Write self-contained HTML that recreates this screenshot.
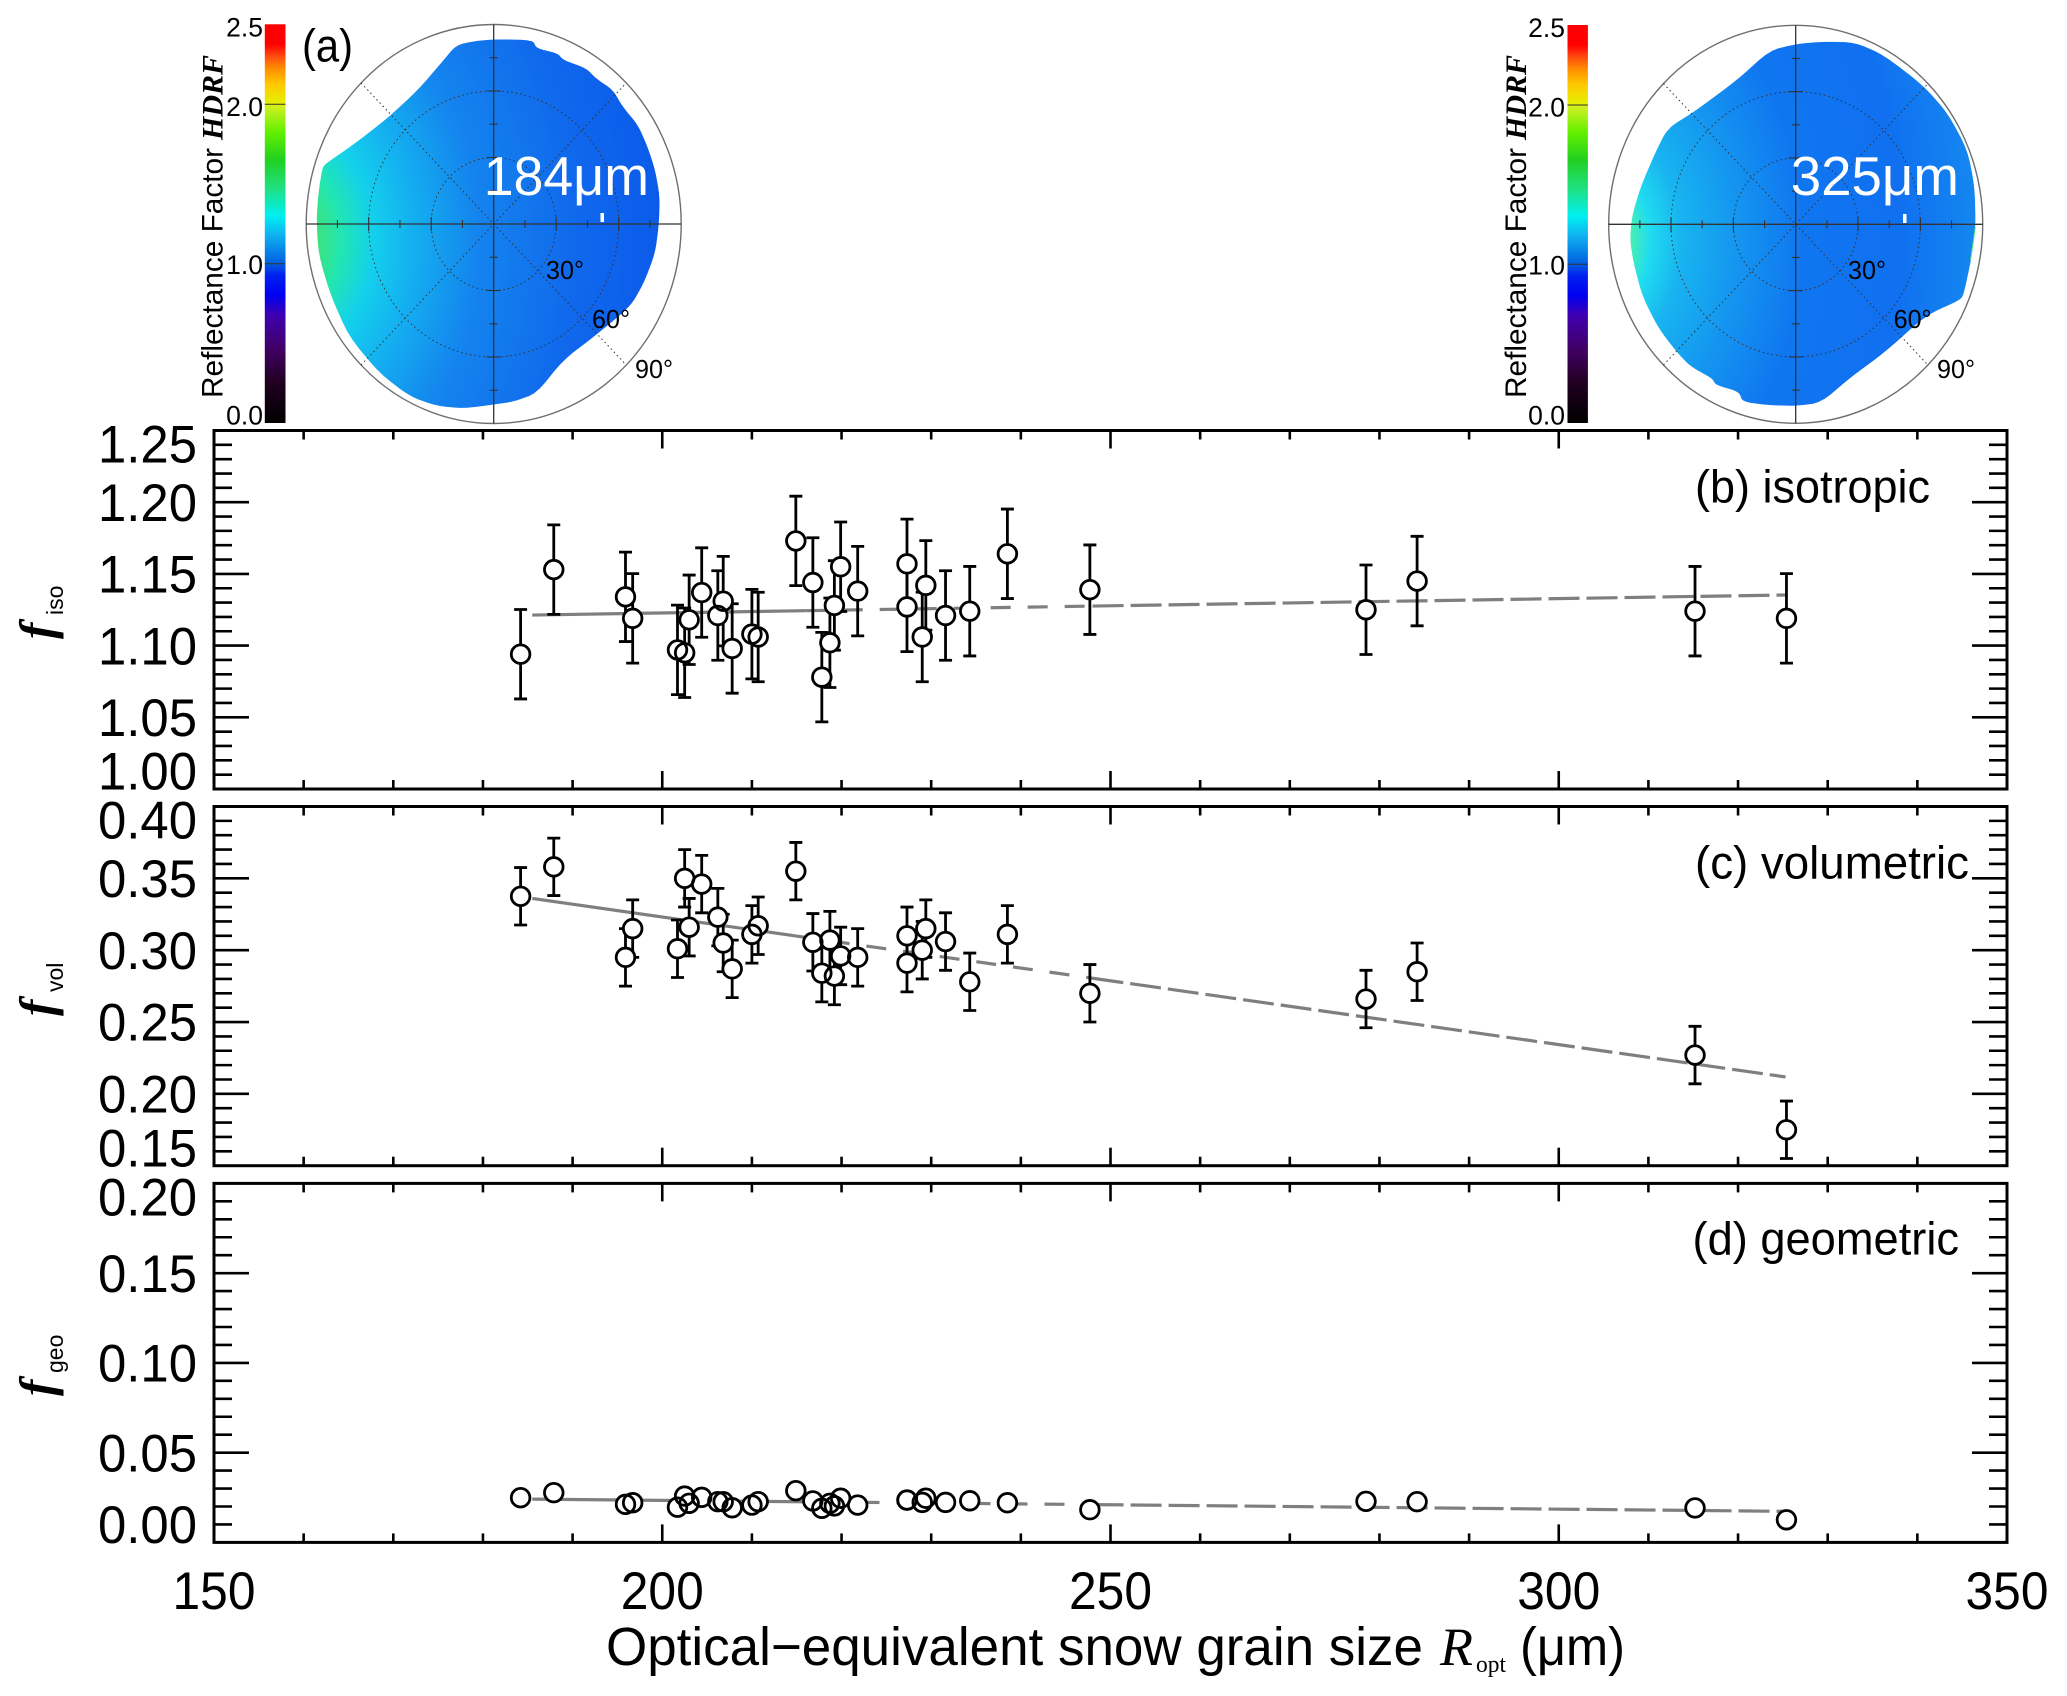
<!DOCTYPE html>
<html lang="en">
<head>
<meta charset="utf-8">
<title>Snow BRDF kernel weights versus optical-equivalent grain size</title>
<style>
html,body{margin:0;padding:0;background:#fff;}
svg{display:block;}
text{font-family:"Liberation Sans",sans-serif;fill:#000;}
.serif{font-family:"Liberation Serif",serif;}
</style>
</head>
<body>
<svg id="chart" xmlns="http://www.w3.org/2000/svg" width="2067" height="1696" viewBox="0 0 2067 1696">
<defs>
<linearGradient id="cbar" x1="0" y1="0" x2="0" y2="1">
<stop offset="0" stop-color="#ff0000"/><stop offset=".05" stop-color="#ff0000"/><stop offset=".08" stop-color="#ff4a10"/><stop offset=".11" stop-color="#ff8c00"/><stop offset=".15" stop-color="#ffc800"/><stop offset=".195" stop-color="#e6ee00"/><stop offset=".21" stop-color="#c8f020"/><stop offset=".27" stop-color="#64f000"/><stop offset=".34" stop-color="#20d020"/><stop offset=".41" stop-color="#20e080"/><stop offset=".48" stop-color="#00f0f0"/><stop offset=".53" stop-color="#10b0f0"/><stop offset=".6" stop-color="#0060e0"/><stop offset=".63" stop-color="#0020f0"/><stop offset=".68" stop-color="#0000f0"/><stop offset=".73" stop-color="#4000b0"/><stop offset=".82" stop-color="#400060"/><stop offset=".9" stop-color="#200020"/><stop offset="1" stop-color="#000000"/>
</linearGradient>
<radialGradient id="patchA" gradientUnits="userSpaceOnUse" cx="330" cy="720" r="1050" gradientTransform="translate(330 720) scale(1 1.5) translate(-330 -720)">
<stop offset=".1" stop-color="#3de27a"/><stop offset=".16" stop-color="#22e6b0"/><stop offset=".24" stop-color="#14d0ec"/><stop offset=".34" stop-color="#14b0f0"/><stop offset=".5" stop-color="#1484ee"/><stop offset=".75" stop-color="#1068ec"/><stop offset="1" stop-color="#0a58ea"/>
</radialGradient>
<radialGradient id="patchB" gradientUnits="userSpaceOnUse" cx="300" cy="720" r="1100" gradientTransform="translate(300 720) scale(1 1.4) translate(-300 -720)">
<stop offset=".11" stop-color="#48f0b0"/><stop offset=".16" stop-color="#20dcf0"/><stop offset=".24" stop-color="#18b4f0"/><stop offset=".38" stop-color="#1496f0"/><stop offset=".55" stop-color="#1076f0"/><stop offset=".8" stop-color="#1070f0"/><stop offset="1" stop-color="#1488f0"/>
</radialGradient>
</defs>

<g id="polarA">
<rect x="264.8" y="24.3" width="20.7" height="398.7" fill="url(#cbar)"/>
<line x1="264.8" x2="285.5" y1="104.3" y2="104.3" stroke="#333" stroke-width="1"/>
<line x1="264.8" x2="285.5" y1="263.7" y2="263.7" stroke="#333" stroke-width="1"/>
<g transform="translate(150,0) scale(.38270,.33333)">
<polygon class="patch" fill="url(#patchA)" points="800,135 850,123 900,118 1000,120 1010,145 1065,160 1080,180 1140,205 1165,235 1210,270 1235,320 1275,375 1300,440 1320,510 1332,590 1330,670 1320,760 1290,850 1255,920 1160,1010 1080,1080 1010,1180 950,1205 890,1215 820,1225 750,1218 680,1190 600,1120 520,1010 470,880 440,760 435,660 440,580 450,505 460,490 530,435 620,355 700,270 760,190"/>
</g>
<rect x="600.5" y="213" width="3.5" height="9" fill="#fff"/>
</g>

<g id="polarB">
<rect x="1567.5" y="25" width="20.4" height="398" fill="url(#cbar)"/>
<line x1="1567.5" x2="1587.9" y1="105" y2="105" stroke="#333" stroke-width="1"/>
<line x1="1567.5" x2="1587.9" y1="264.3" y2="264.3" stroke="#333" stroke-width="1"/>
<g transform="translate(1480,0) scale(.35714,.33333)">
<polygon class="patch" fill="url(#patchB)" points="810,152 885,132 960,125 1050,127 1130,165 1240,255 1310,340 1365,450 1385,560 1388,680 1375,780 1355,880 1345,900 1250,945 1130,1060 1040,1130 955,1208 885,1218 800,1215 735,1205 725,1175 660,1155 650,1135 590,1100 550,1055 500,985 455,890 430,790 420,720 425,650 450,560 490,460 525,385 600,335 720,240"/>
<polygon fill="#50e878" points="1386,680 1388,682 1375,780 1372,780"/>
</g>
<rect x="1903" y="214" width="3.5" height="9" fill="#fff"/>
</g>

<g id="axes"></g>
</svg>

<script>
// Optical-equivalent snow grain size (x, micrometres)
const grainSize = [184.2,187.9,195.9,196.7,201.7,202.5,203.0,204.4,206.2,206.8,207.8,210.0,210.7,214.9,216.8,217.8,218.7,219.2,219.9,221.8,227.3,227.3,229.0,229.4,231.6,234.3,238.5,247.7,278.5,284.2,315.2,325.4];
// Kernel weights
const fIso = [1.094,1.153,1.134,1.119,1.097,1.095,1.118,1.137,1.121,1.131,1.098,1.108,1.106,1.173,1.144,1.078,1.102,1.128,1.155,1.138,1.157,1.127,1.106,1.142,1.121,1.124,1.164,1.139,1.125,1.145,1.124,1.119];
const fVol = [0.3375,0.358,0.295,0.315,0.301,0.350,0.316,0.346,0.323,0.305,0.287,0.311,0.317,0.355,0.3055,0.284,0.307,0.282,0.296,0.295,0.310,0.291,0.300,0.315,0.306,0.278,0.311,0.270,0.266,0.285,0.227,0.175];
const fGeo = [0.0249,0.0277,0.0212,0.0221,0.0196,0.0258,0.0218,0.0251,0.0227,0.0227,0.0193,0.0208,0.0227,0.0288,0.0231,0.019,0.0218,0.0203,0.0246,0.0208,0.0236,0.0236,0.0223,0.0246,0.0223,0.0232,0.0221,0.0182,0.0229,0.0227,0.0192,0.0126];
// Uncertainty half-widths
const errIso = 0.0312;
const errVol = 0.02;
// Trend line end points [start, end]
const trendX = [185.5,325.3];
const trendIso = [1.1213,1.1353];
const trendVol = [0.336,0.2118];
const trendGeo = [0.0241,0.0173];
// Axis ticks
const xTickLabels = ['150','200','250','300','350'];
const xMinorStep = 10;
const isoTicks = ['1.00','1.05','1.10','1.15','1.20','1.25'];
const volTicks = ['0.15','0.20','0.25','0.30','0.35','0.40'];
const geoTicks = ['0.00','0.05','0.10','0.15','0.20'];
const barTicks = ['0.0','1.0','2.0','2.5'];

const NS = 'http://www.w3.org/2000/svg';
const root = document.getElementById('axes');
const LEFT = 214, RIGHT = 2007;
const XMIN = 150, XMAX = 350;
function xScale(v){ return LEFT + (v - XMIN) * (RIGHT - LEFT) / (XMAX - XMIN); }
function make(parent, tag, attrs, txt){
  const e = document.createElementNS(NS, tag);
  for (const k in attrs) e.setAttribute(k, attrs[k]);
  if (txt !== undefined) e.textContent = txt;
  parent.appendChild(e);
  return e;
}

// soften the hand-traced patch outlines with corner cutting
document.querySelectorAll('polygon.patch').forEach(function(poly){
  let pts = poly.getAttribute('points').trim().split(/\s+/).map(function(s){ return s.split(',').map(Number); });
  for (let it = 0; it < 2; it++) {
    const out = [];
    pts.forEach(function(a, i){
      const b = pts[(i + 1) % pts.length];
      out.push([a[0] * .8 + b[0] * .2, a[1] * .8 + b[1] * .2]);
      out.push([a[0] * .2 + b[0] * .8, a[1] * .2 + b[1] * .8]);
    });
    pts = out;
  }
  poly.setAttribute('points', pts.map(function(q){ return q[0].toFixed(1) + ',' + q[1].toFixed(1); }).join(' '));
});

const panels = [
  {key:'iso', top:430.5, bottom:789, ticks:isoTicks, vals:fIso, err:errIso, trend:trendIso, label:'(b) isotropic', lx:1695, ll:235, ly:502.6, sub:'iso', fy:639, sy:615, solidTo:216},
  {key:'vol', top:806.5, bottom:1165.7, ticks:volTicks, vals:fVol, err:errVol, trend:trendVol, label:'(c) volumetric', lx:1695, ll:274, ly:878.7, sub:'vol', fy:1016, sy:992, solidTo:214.6},
  {key:'geo', top:1183.4, bottom:1542.4, ticks:geoTicks, vals:fGeo, err:0, trend:trendGeo, label:'(d) geometric', lx:1692.5, ll:266.5, ly:1254.5, sub:'geo', fy:1396, sy:1373, solidTo:222}
];

panels.forEach(function(p){
  const g = make(root, 'g', {});
  
  
  const y0 = parseFloat(p.ticks[0]);
  const y1 = parseFloat(p.ticks[p.ticks.length - 1]);
  const yScale = function(v){ return p.bottom - (v - y0) * (p.bottom - p.top) / (y1 - y0); };

  // x ticks (top and bottom)
  for (let v = XMIN; v <= XMAX; v += xMinorStep) {
    if (v === XMIN || v === XMAX) continue;
    const major = (v % 50 === 0);
    const len = major ? 18 : 9;
    const tb = make(g, 'line', {x1:xScale(v), x2:xScale(v), y1:p.bottom, y2:p.bottom - len, stroke:'#000', 'stroke-width':2.6});
    
    
    const tt = make(g, 'line', {x1:xScale(v), x2:xScale(v), y1:p.top, y2:p.top + len, stroke:'#000', 'stroke-width':2.6});
    
    
  }

  // y ticks (left and right), y tick labels
  const majorStep = parseFloat(p.ticks[1]) - y0;
  const minorStep = majorStep / 5;
  const n = Math.round((y1 - y0) / minorStep);
  for (let i = 1; i < n; i++) {
    const v = y0 + i * minorStep;
    const len = (i % 5 === 0) ? 35 : 18;
    const tl = make(g, 'line', {x1:LEFT, x2:LEFT + len, y1:yScale(v), y2:yScale(v), stroke:'#000', 'stroke-width':2.6});
    
    
    const tr = make(g, 'line', {x1:RIGHT, x2:RIGHT - len, y1:yScale(v), y2:yScale(v), stroke:'#000', 'stroke-width':2.6});
    
    
  }
  p.ticks.forEach(function(lab, i){
    let c = yScale(parseFloat(lab));
    if (i === 0) c -= 18;
    if (i === p.ticks.length - 1) c += 13.5;
    const t = make(g, 'text', {x:98, y:c + 18.7, 'font-size':52.5, textLength:99, lengthAdjust:'spacingAndGlyphs'}, lab);
    
    
  });

  // frame
  const frame = make(g, 'rect', {x:LEFT, y:p.top, width:RIGHT - LEFT, height:p.bottom - p.top, fill:'none', stroke:'#000', 'stroke-width':3});
  
  

  // trend line: solid through the dense part, dashed beyond
  const trendAt = function(x){ return p.trend[0] + (x - trendX[0]) * (p.trend[1] - p.trend[0]) / (trendX[1] - trendX[0]); };
  const pieces = [[trendX[0], p.solidTo, 'none'], [p.solidTo, 248, '20 17'], [248, trendX[1], '31 7']];
  pieces.forEach(function(s){
    const l = make(g, 'line', {x1:xScale(s[0]), x2:xScale(s[1]), y1:yScale(trendAt(s[0])), y2:yScale(trendAt(s[1])), stroke:'#7f7f7f', 'stroke-width':3.2, 'stroke-dasharray':s[2]});
    
    
  });

  // error bars
  if (p.err > 0) {
    grainSize.forEach(function(x, i){
      const px = xScale(x);
      const hi = yScale(p.vals[i] + p.err);
      const lo = yScale(p.vals[i] - p.err);
      const d = 'M' + px + ' ' + hi + 'V' + lo + 'M' + (px - 6.5) + ' ' + hi + 'H' + (px + 6.5) + 'M' + (px - 6.5) + ' ' + lo + 'H' + (px + 6.5);
      const e = make(g, 'path', {d:d, fill:'none', stroke:'#000', 'stroke-width':2.8});
      
      
    });
  }

  // marker fills then outlines, so overlapping rings stay visible
  grainSize.forEach(function(x, i){
    const f = make(g, 'circle', {cx:xScale(x), cy:yScale(p.vals[i]), r:9.3, fill:'#fff'});
    
    
  });
  grainSize.forEach(function(x, i){
    const o = make(g, 'circle', {cx:xScale(x), cy:yScale(p.vals[i]), r:9.3, fill:'none', stroke:'#000', 'stroke-width':2.8});
    
    
  });

  // panel label
  const lb = make(g, 'text', {x:p.lx, y:p.ly, 'font-size':46, textLength:p.ll, lengthAdjust:'spacingAndGlyphs'}, p.label);
  
  

  // rotated y title: f with sans subscript
  const fx = make(g, 'text', {transform:'translate(53,' + p.fy + ') rotate(-90)', class:'serif', 'font-size':49, 'font-weight':'bold', 'font-style':'italic'}, 'f');
  
  
  const sb = make(g, 'text', {transform:'translate(63,' + p.sy + ') rotate(-90)', 'font-size':23}, p.sub);
  
  
});

// x tick labels
xTickLabels.forEach(function(lab){
  const t = make(root, 'text', {x:xScale(parseFloat(lab)) - 41.5, y:1609, 'font-size':52.5, textLength:83, lengthAdjust:'spacingAndGlyphs'}, lab);
  
  
});

// x axis title
const t1 = make(root, 'text', {x:606, y:1665, 'font-size':54, textLength:817, lengthAdjust:'spacingAndGlyphs'}, 'Optical\u2212equivalent snow grain size');


const t2 = make(root, 'text', {x:1440, y:1665, class:'serif', 'font-size':54, 'font-style':'italic'}, 'R');


const t3 = make(root, 'text', {x:1476, y:1672, class:'serif', 'font-size':24, textLength:30, lengthAdjust:'spacingAndGlyphs'}, 'opt');


const t4 = make(root, 'text', {x:1520, y:1665, 'font-size':54, textLength:105, lengthAdjust:'spacingAndGlyphs'}, '(\u03BCm)');



// polar insets
const insets = [
  {id:'polarA', cx:493.7, cy:224, rx:187.5, ry:199.5, barRight:263, barTop:24.3, barBottom:423, titleX:222.7, size:'184\u03BCm', sizeX:483.7, sizeL:165.3, a:[546,592,635]},
  {id:'polarB', cx:1795.7, cy:224.3, rx:187, ry:199, barRight:1565, barTop:25, barBottom:423, titleX:1526, size:'325\u03BCm', sizeX:1790.7, sizeL:168.3, a:[1848,1893.6,1937]}
];
const zenithLabels = ['30\u00B0','60\u00B0','90\u00B0'];
const zenithBaselines = [279,328,378];
const barOffsets = {'0.0':-8, '1.0':1, '2.0':2.5, '2.5':2.7};
insets.forEach(function(s){
  const g = document.getElementById(s.id);
  const ring = make(g, 'ellipse', {cx:s.cx, cy:s.cy, rx:s.rx, ry:s.ry, fill:'none', stroke:'#6e6e6e', 'stroke-width':1.4});
  
  
  [1/3, 2/3].forEach(function(k){
    const c = make(g, 'ellipse', {cx:s.cx, cy:s.cy, rx:s.rx * k, ry:s.ry * k, fill:'none', stroke:'#333', 'stroke-width':1, 'stroke-dasharray':'1.5 3'});
    
    
  });
  [[1,1],[1,-1]].forEach(function(d){
    const q = make(g, 'line', {x1:s.cx - d[0] * s.rx * Math.SQRT1_2, x2:s.cx + d[0] * s.rx * Math.SQRT1_2, y1:s.cy - d[1] * s.ry * Math.SQRT1_2, y2:s.cy + d[1] * s.ry * Math.SQRT1_2, stroke:'#333', 'stroke-width':1, 'stroke-dasharray':'1.5 3'});
    
    
  });
  const h = make(g, 'line', {x1:s.cx - s.rx, x2:s.cx + s.rx, y1:s.cy, y2:s.cy, stroke:'#333', 'stroke-width':1.3});
  
  
  const v = make(g, 'line', {x1:s.cx, x2:s.cx, y1:s.cy - s.ry, y2:s.cy + s.ry, stroke:'#333', 'stroke-width':1.3});
  
  
  for (let i = -5; i <= 5; i++) {
    if (i === 0) continue;
    const l = (i % 2 === 0) ? 7 : 4;
    const tx = make(g, 'line', {x1:s.cx + i * s.rx / 6, x2:s.cx + i * s.rx / 6, y1:s.cy - l, y2:s.cy + l, stroke:'#333', 'stroke-width':1.1});
    
    
    const ty = make(g, 'line', {x1:s.cx - l, x2:s.cx + l, y1:s.cy + i * s.ry / 6, y2:s.cy + i * s.ry / 6, stroke:'#333', 'stroke-width':1.1});
    
    
  }
  zenithLabels.forEach(function(z, i){
    const t = make(g, 'text', {x:s.a[i], y:zenithBaselines[i], 'font-size':26, textLength:38, lengthAdjust:'spacingAndGlyphs'}, z);
    
    
  });
  const big = make(g, 'text', {x:s.sizeX, y:195, 'font-size':55, textLength:s.sizeL, lengthAdjust:'spacingAndGlyphs', style:'fill:#fff'}, s.size);
  
  
  barTicks.forEach(function(lab){
    const yy = s.barBottom - parseFloat(lab) * (s.barBottom - s.barTop) / 2.5;
    const t = make(g, 'text', {x:s.barRight, y:yy + barOffsets[lab] + 9.5, 'text-anchor':'end', 'font-size':26.5}, lab);
    
    
  });
  const a1 = make(g, 'text', {transform:'translate(' + s.titleX + ',398) rotate(-90)', 'font-size':30, textLength:250, lengthAdjust:'spacingAndGlyphs'}, 'Reflectance Factor');
  
  
  const a2 = make(g, 'text', {transform:'translate(' + s.titleX + ',140) rotate(-90)', class:'serif', 'font-size':30, 'font-weight':'bold', 'font-style':'italic', textLength:85, lengthAdjust:'spacingAndGlyphs'}, 'HDRF');
  
  
});
const tagA = make(document.getElementById('polarA'), 'text', {x:302, y:61.7, 'font-size':46, textLength:51, lengthAdjust:'spacingAndGlyphs'}, '(a)');


</script>
</body>
</html>
